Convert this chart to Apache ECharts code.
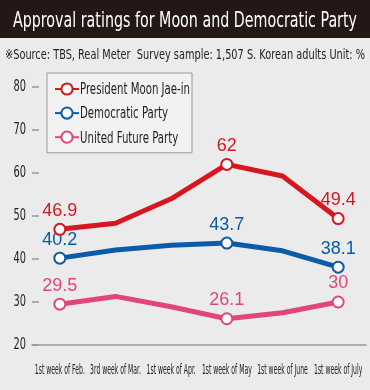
<!DOCTYPE html>
<html><head><meta charset="utf-8">
<script src="https://cdn.jsdelivr.net/npm/echarts@6/dist/echarts.min.js"></script>
<style>html,body{margin:0;padding:0;background:#ebebeb}#c{width:370px;height:390px}</style>
</head><body><div id="c"></div>
<script>
var titleText = 'Approval ratings for Moon and Democratic Party';
var subtitleText = '\u203BSource: TBS, Real Meter  Survey sample: 1,507 S. Korean adults Unit: %';
var categories = ['1st week of Feb.', '3rd week of Mar.', '1st week of Apr.', '1st week of May', '1st week of June', '1st week of July'];
var seriesNames = ['President Moon Jae-in', 'Democratic Party', 'United Future Party'];
var moon = [46.9, 48.3, 54.0, 62, 59.3, 49.4];
var democratic = [40.2, 42.1, 43.2, 43.7, 41.9, 38.1];
var unitedFuture = [29.5, 31.3, 28.9, 26.1, 27.5, 30];
var labeledPoints = [0, 3, 5];
var yTicks = [20, 30, 40, 50, 60, 70, 80];

var NARROW = "'DejaVu Sans Condensed','Liberation Sans',sans-serif";
var colors = ['#d7161f', '#0c5ba8', '#e1467b'];

function measure(text, font) {
  var c = document.createElement('canvas').getContext('2d');
  c.font = font;
  return c.measureText(text).width;
}

function buildData(vals) {
  return vals.map(function (v, i) {
    var on = labeledPoints.indexOf(i) >= 0;
    return on ? { value: v } : { value: v, symbol: 'none', label: { show: false } };
  });
}

var chart = echarts.init(document.getElementById('c'));
var titleFont = '22px ' + NARROW;
var subFont = '14px ' + NARROW;
var xFont = '14px ' + NARROW;
var yFont = '16px ' + NARROW;
var legFont = '16px ' + NARROW;
var titleScale = 344 / measure(titleText, titleFont);
var subScale = 360 / measure(subtitleText, subFont);
var xScale = 50 / measure(categories[0], xFont);
var yScale = 12.5 / measure('80', yFont);
var legScale = 110 / measure(seriesNames[0], legFont);

var vals = [moon, democratic, unitedFuture];
var series = vals.map(function (v, k) {
  return {
    name: seriesNames[k], type: 'line', data: buildData(v),
    symbol: 'circle', symbolSize: 11, showAllSymbol: true,
    lineStyle: { width: 5, color: colors[k] },
    itemStyle: { color: '#fff', borderColor: colors[k], borderWidth: 2 },
    label: { show: true, position: 'top', distance: 3, color: colors[k], fontSize: 18,
      fontFamily: "'Liberation Sans',Arial,sans-serif" },
    z: 3 - k
  };
});

chart.setOption({
  backgroundColor: '#ebebeb',
  animation: false,
  color: colors,
  legend: {
    orient: 'vertical', left: 47, top: 73,
    padding: [9, 112, 9, 7], itemGap: 10.5, itemWidth: 24, itemHeight: 14,
    backgroundColor: '#f2f2f2', borderColor: '#999', borderWidth: 1,
    formatter: function () { return ''; },
    data: seriesNames
  },
  grid: { left: 32, right: 4, top: 87, bottom: 45, containLabel: false },
  xAxis: {
    type: 'category', data: categories, boundaryGap: true,
    axisLine: { lineStyle: { color: '#999', width: 1.5 } },
    axisTick: { alignWithLabel: true, length: 7, lineStyle: { color: '#999', width: 1.5 } },
    axisLabel: { show: false }
  },
  yAxis: {
    type: 'value', min: yTicks[0], max: yTicks[yTicks.length - 1], interval: 10,
    axisLine: { show: false },
    axisTick: { show: true, inside: true, length: 7, lineStyle: { color: '#999', width: 1.5 } },
    splitLine: { show: false },
    axisLabel: { show: false }
  },
  series: series
});

var g = [
  { type: 'rect', shape: { x: 0, y: 0, width: 370, height: 38 }, style: { fill: '#231815' }, z: -1 },
  { type: 'text', x: 13, y: 21, scaleX: titleScale, originX: 0,
    style: { text: titleText, font: titleFont, fill: '#ffffff', textVerticalAlign: 'middle', textAlign: 'left' } },
  { type: 'text', x: 5, y: 55, scaleX: subScale, originX: 0,
    style: { text: subtitleText, font: subFont, fill: '#222', textVerticalAlign: 'middle', textAlign: 'left' } }
];
categories.forEach(function (c) {
  var px = chart.convertToPixel({ xAxisIndex: 0 }, c);
  var py = chart.convertToPixel({ yAxisIndex: 0 }, yTicks[0]);
  g.push({ type: 'text', x: px, y: py + 25, scaleX: xScale, originX: 0,
    style: { text: c, font: xFont, fill: '#222', textAlign: 'center', textVerticalAlign: 'middle' } });
});
yTicks.forEach(function (t) {
  var py = chart.convertToPixel({ yAxisIndex: 0 }, t);
  g.push({ type: 'text', x: 26, y: py, scaleX: yScale, originX: 0,
    style: { text: String(t), font: yFont, fill: '#222', textAlign: 'right', textVerticalAlign: 'middle' } });
});
seriesNames.forEach(function (n, i) {
  g.push({ type: 'text', x: 80, y: 89.5 + i * 24.5, scaleX: legScale, originX: 0, z: 100,
    style: { text: n, font: legFont, fill: '#222', textAlign: 'left', textVerticalAlign: 'middle' } });
});
chart.setOption({ graphic: g });
</script></body></html>
